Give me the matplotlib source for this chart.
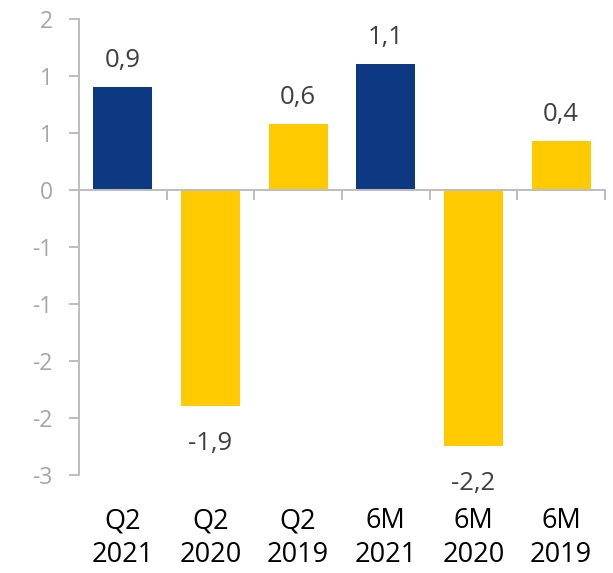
import numpy as np
import matplotlib.pyplot as plt
import matplotlib.transforms as mtransforms

plt.rcParams['font.family'] = ['Open Sans', 'DejaVu Sans']

# 数据
periods = ['Q2', 'Q2', 'Q2', '6M', '6M', '6M']
years = ['2021', '2020', '2019', '2021', '2020', '2019']
values = [0.91, -1.89, 0.58, 1.11, -2.24, 0.43]
labels = ['0,9', '-1,9', '0,6', '1,1', '-2,2', '0,4']
colors = ['#0C3982', '#FFCB00', '#FFCB00', '#0C3982', '#FFCB00', '#FFCB00']
yticks = [-2.5, -2.0, -1.5, -1.0, -0.5, 0.0, 0.5, 1.0, 1.5]

axis_grey = '#BDBDBD'


def round_half_away(v, _pos=None):
    r = int(np.floor(abs(v) + 0.5))
    if r == 0:
        return '0'
    return ('-' if v < 0 else '') + str(r)


fig = plt.figure(figsize=(6.13, 5.73), dpi=100)
ax = fig.add_axes([0.1289, 0.1702, 0.858, 0.7958])

x = np.arange(len(values))
ax.bar(x, values, width=0.67, color=colors, zorder=2)

ax.set_xlim(-0.5, len(values) - 0.5)
ax.set_ylim(-2.5, 1.5)

# 坐标轴
for s in ['top', 'right']:
    ax.spines[s].set_visible(False)
ax.spines['left'].set_color(axis_grey)
ax.spines['left'].set_linewidth(1.4)
ax.spines['bottom'].set_position(('data', 0))
ax.spines['bottom'].set_color(axis_grey)
ax.spines['bottom'].set_linewidth(1.4)
ax.spines['bottom'].set_zorder(3)

ax.set_yticks(yticks)
ax.yaxis.set_major_formatter(plt.FuncFormatter(round_half_away))
ax.tick_params(axis='y', length=7, width=1.4, color=axis_grey,
               labelcolor='#A6A6A6', labelsize=16.5, pad=12)

ax.set_xticks(x)
ax.set_xticklabels([])
ax.tick_params(axis='x', which='major', length=0)
ax.set_xticks(np.arange(-0.5, len(values)), minor=True)
ax.tick_params(axis='x', which='minor', length=7, width=1.4,
               color=axis_grey, direction='out')

# 数据标签
for xi, v, lab in zip(x, values, labels):
    off = 14.5 if v >= 0 else -32
    ax.annotate(lab, (xi, v), xytext=(0, off), textcoords='offset points',
                ha='center', va='baseline', fontsize=18.5, color='#404040')

# 类别标签
trans = mtransforms.blended_transform_factory(ax.transData, ax.transAxes)
for xi, p, yr in zip(x, periods, years):
    ax.text(xi, -0.07, p + '\n' + yr, transform=trans, ha='center', va='top',
            fontsize=19.5, color='#000000', linespacing=1.25)

fig.savefig('out.png', dpi=100)
